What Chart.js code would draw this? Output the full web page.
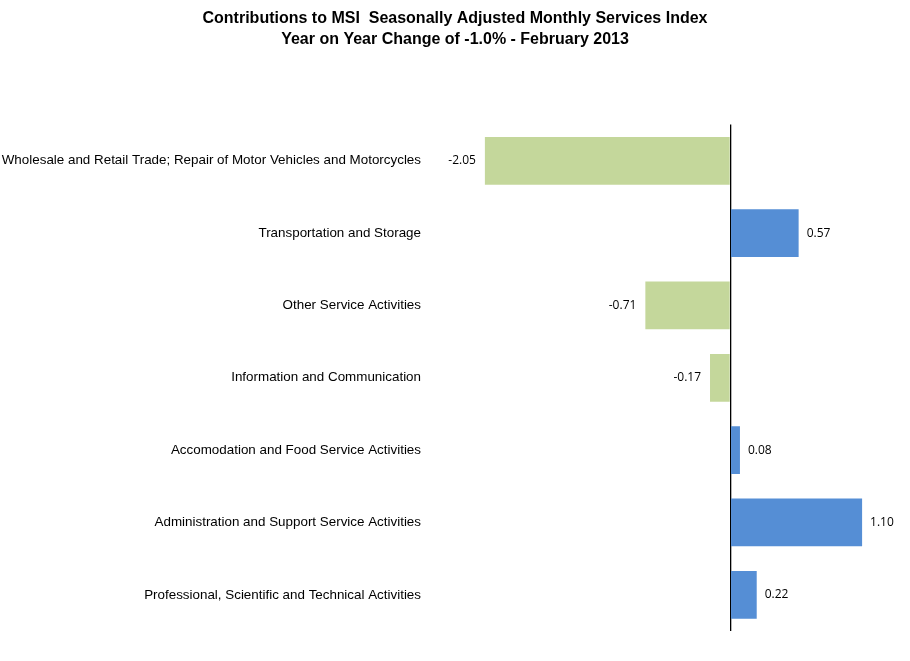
<!DOCTYPE html>
<html>
<head>
<meta charset="utf-8">
<script src="https://cdn.jsdelivr.net/npm/chart.js@4.4.1/dist/chart.umd.min.js"></script>
<style>
  html, body { margin: 0; padding: 0; background: #fff; }
  #box { width: 910px; height: 661px; }
</style>
</head>
<body>
<div id="box"><canvas id="grafico"></canvas></div>
<script>
const categorias = [
    "Wholesale and Retail Trade; Repair of Motor Vehicles and Motorcycles",
    "Transportation and Storage",
    "Other Service Activities",
    "Information and Communication",
    "Accomodation and Food Service Activities",
    "Administration and Support Service Activities",
    "Professional, Scientific and Technical Activities"
];
const contribuicoes = [-2.05, 0.57, -0.71, -0.17, 0.08, 1.10, 0.22];

const titulo = [
    "Contributions to MSI  Seasonally Adjusted Monthly Services Index",
    "Year on Year Change of -1.0% - February 2013"
];

const corPositivo = "#558ED5";
const corNegativo = "#C4D79B";

// rotulos de valor ao lado das barras
const rotulos = {
    id: "rotulos",
    afterDatasetsDraw(chart) {
        const ctx = chart.ctx;
        const meta = chart.getDatasetMeta(0);
        ctx.save();
        ctx.font = "12px 'Open Sans'";
        ctx.fillStyle = "#000";
        ctx.textBaseline = "middle";
        meta.data.forEach((bar, i) => {
            const v = contribuicoes[i];
            if (v < 0) {
                ctx.textAlign = "right";
                ctx.fillText(v.toFixed(2), bar.x - 9, bar.y);
            } else {
                ctx.textAlign = "left";
                ctx.fillText(v.toFixed(2), bar.x + 8, bar.y);
            }
        });
        ctx.restore();
    }
};

const ctx = document.getElementById("grafico");

new Chart(ctx, {
    type: "bar",
    data: {
        labels: categorias,
        datasets: [{
            data: contribuicoes,
            backgroundColor: contribuicoes.map(v => v < 0 ? corNegativo : corPositivo),
            barPercentage: 0.66,
            categoryPercentage: 1
        }]
    },
    options: {
        indexAxis: "y",
        responsive: true,
        maintainAspectRatio: false,
        animation: false,
        layout: {
            padding: { left: 0, right: 0, top: 0, bottom: 30 }
        },
        scales: {
            x: {
                min: -2.5,
                max: 1.5,
                ticks: { display: false, stepSize: 0.5 },
                border: { display: false },
                grid: {
                    drawTicks: false,
                    lineWidth: 1.3,
                    color: c => c.tick && c.tick.value === 0 ? "#000" : "rgba(0,0,0,0)"
                }
            },
            y: {
                afterFit: scale => { scale.width = 431; },
                border: { display: false },
                grid: { display: false, drawTicks: false },
                ticks: {
                    padding: 10,
                    color: "#000",
                    font: { family: "'Liberation Sans', Arial", size: 13.4 }
                }
            }
        },
        plugins: {
            legend: { display: false },
            tooltip: { enabled: false },
            title: {
                display: true,
                text: titulo,
                color: "#000",
                font: { family: "'Liberation Sans', Arial", size: 16, weight: "bold", lineHeight: 1.3 },
                padding: { top: 8, bottom: 75 }
            }
        }
    },
    plugins: [rotulos]
});
</script>
</body>
</html>
